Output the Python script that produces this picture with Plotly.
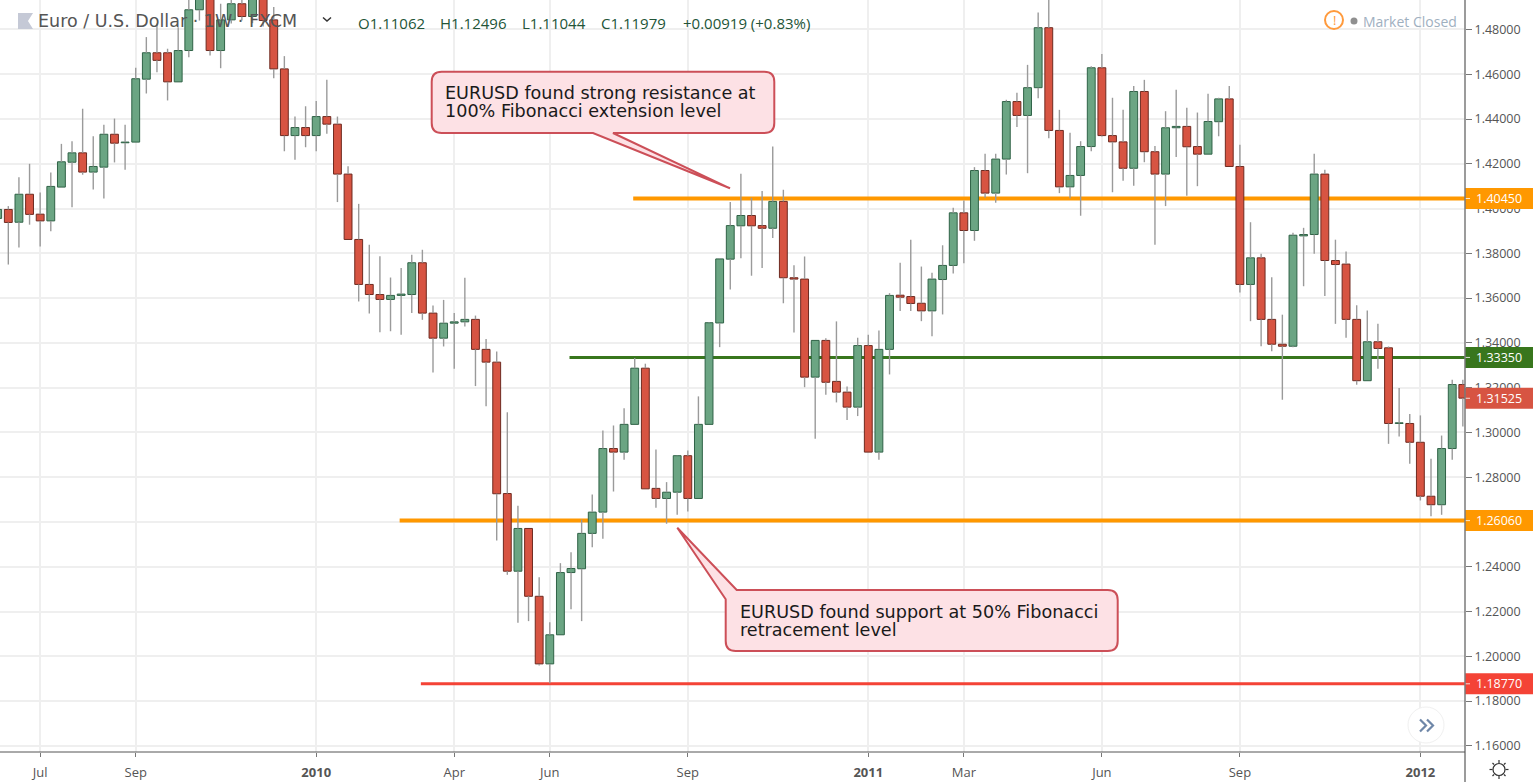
import pandas as pd
import plotly.graph_objects as go

first_week = "2009-06-08"
opens = [1.3956,1.3996,1.3939,1.4064,1.3975,1.3945,1.4096,1.4207,1.4249,1.4163,
1.4185,1.4332,1.4294,1.4297,1.4578,1.4696,1.4696,1.4566,1.4706,1.4888,
1.4952,1.4706,1.4843,1.4915,1.4858,1.4938,1.4843,1.4624,1.4326,1.4362,
1.4326,1.4411,1.4377,1.4154,1.3862,1.3661,1.3616,1.3594,1.3612,1.3616,
1.3758,1.3533,1.3421,1.3488,1.3494,1.3505,1.3371,1.3314,1.2727,1.2380,
1.2571,1.2268,1.1966,1.2096,1.2374,1.2391,1.2549,1.2644,1.2928,1.2912,
1.3036,1.3287,1.2750,1.2705,1.2733,1.2896,1.2705,1.3036,1.3489,1.3774,
1.3923,1.3969,1.3924,1.3912,1.4032,1.3691,1.3685,1.3247,1.3411,1.3228,
1.3180,1.3113,1.3388,1.2912,1.3371,1.3613,1.3607,1.3577,1.3543,1.3683,
1.3746,1.3981,1.3902,1.4170,1.4069,1.4221,1.4478,1.4416,1.4540,1.4808,
1.4349,1.4097,1.4148,1.4277,1.4629,1.4326,1.4298,1.4180,1.4523,1.4254,
1.4154,1.4361,1.4367,1.4277,1.4243,1.4388,1.4490,1.4188,1.3661,1.3780,
1.3505,1.3394,1.3385,1.3878,1.3884,1.4154,1.3768,1.3752,1.3505,1.3231,
1.3405,1.3378,1.3040,1.3040,1.2956,1.2715,1.2677,1.2928,1.3214]
closes = [1.3996,1.3938,1.4064,1.3974,1.3945,1.4099,1.4209,1.4249,1.4163,1.4188,
1.4332,1.4292,1.4297,1.4580,1.4696,1.4662,1.4566,1.4706,1.4888,1.4965,
1.4706,1.4843,1.4915,1.4858,1.4943,1.4840,1.4624,1.4326,1.4362,1.4326,
1.4411,1.4377,1.4154,1.3862,1.3661,1.3616,1.3594,1.3612,1.3618,1.3758,
1.3533,1.3421,1.3488,1.3494,1.3505,1.3371,1.3314,1.2726,1.2380,1.2571,
1.2268,1.1966,1.2096,1.2374,1.2392,1.2549,1.2644,1.2928,1.2912,1.3036,
1.3287,1.2748,1.2705,1.2733,1.2896,1.2705,1.3036,1.3490,1.3775,1.3924,
1.3969,1.3923,1.3912,1.4032,1.3691,1.3685,1.3247,1.3411,1.3224,1.3180,
1.3113,1.3388,1.2912,1.3371,1.3612,1.3604,1.3576,1.3543,1.3685,1.3746,
1.3981,1.3902,1.4170,1.4069,1.4221,1.4478,1.4416,1.4540,1.4808,1.4349,
1.4097,1.4148,1.4277,1.4629,1.4326,1.4298,1.4180,1.4523,1.4254,1.4154,
1.4361,1.4367,1.4276,1.4243,1.4389,1.4490,1.4188,1.3661,1.3780,1.3505,
1.3394,1.3385,1.3881,1.3884,1.4154,1.3768,1.3750,1.3505,1.3231,1.3405,
1.3375,1.3040,1.3043,1.2956,1.2715,1.2677,1.2928,1.3214,1.3153]
highs = [1.4014,1.4011,1.4140,1.4200,1.4072,1.4161,1.4289,1.4301,1.4446,1.4323,
1.4374,1.4402,1.4374,1.4629,1.4766,1.4827,1.4714,1.4810,1.4943,1.4995,
1.4974,1.4915,1.4956,1.4952,1.4970,1.4965,1.4900,1.4681,1.4411,1.4457,
1.4480,1.4575,1.4411,1.4189,1.4021,1.3838,1.3787,1.3692,1.3735,1.3794,
1.3816,1.3567,1.3592,1.3533,1.3691,1.3522,1.3417,1.3362,1.3090,1.2672,
1.2571,1.2353,1.2152,1.2416,1.2465,1.2611,1.2723,1.3009,1.3031,1.3108,
1.3332,1.3307,1.2924,1.2778,1.2897,1.2919,1.3161,1.3492,1.3778,1.4029,
1.4155,1.4048,1.4078,1.4277,1.4084,1.3747,1.3786,1.3411,1.3421,1.3496,
1.3205,1.3423,1.3436,1.3455,1.3622,1.3758,1.3861,1.3741,1.3713,1.3836,
1.4004,1.4036,1.4185,1.4245,1.4245,1.4486,1.4517,1.4642,1.4876,1.4952,
1.4441,1.4339,1.4301,1.4636,1.4691,1.4495,1.4441,1.4547,1.4575,1.4279,
1.4435,1.4531,1.4450,1.4429,1.4513,1.4495,1.4547,1.4285,1.3939,1.3798,
1.3693,1.3526,1.3892,1.3914,1.4245,1.4173,1.3861,1.3808,1.3568,1.3545,
1.3485,1.3384,1.3199,1.3082,1.3076,1.2882,1.2986,1.3235,1.3235]
lows = [1.3911,1.3750,1.3826,1.3928,1.3831,1.3899,1.4094,1.4006,1.4151,1.4085,
1.4045,1.4206,1.4173,1.4297,1.4514,1.4609,1.4483,1.4566,1.4676,1.4840,
1.4684,1.4627,1.4827,1.4840,1.4828,1.4813,1.4582,1.4256,1.4218,1.4274,
1.4256,1.4334,1.4029,1.3862,1.3585,1.3531,1.3448,1.3452,1.3436,1.3534,
1.3503,1.3268,1.3384,1.3284,1.3473,1.3207,1.3117,1.2517,1.2364,1.2150,
1.2157,1.1959,1.1880,1.2096,1.2210,1.2157,1.2487,1.2525,1.2736,1.2878,
1.3036,1.2748,1.2663,1.2592,1.2632,1.2647,1.2705,1.3036,1.3381,1.3639,
1.3778,1.3700,1.3734,1.3868,1.3577,1.3446,1.3202,1.2972,1.3168,1.3134,
1.3056,1.3073,1.2912,1.2878,1.3259,1.3542,1.3542,1.3497,1.3430,1.3527,
1.3710,1.3756,1.3856,1.4048,1.4026,1.4152,1.4364,1.4158,1.4493,1.4314,
1.4069,1.4046,1.3968,1.4256,1.4322,1.4073,1.4124,1.4102,1.4207,1.3838,
1.4011,1.4230,1.4057,1.4100,1.4243,1.4323,1.4188,1.3625,1.3497,1.3385,
1.3363,1.3146,1.3381,1.3653,1.3798,1.3609,1.3485,1.3423,1.3213,1.3231,
1.3284,1.2949,1.2982,1.2860,1.2696,1.2625,1.2632,1.2878,1.3027]

x_tick_dates = ["2009-07-06","2009-09-07","2010-01-04","2010-04-05","2010-06-07","2010-09-06",
                "2011-01-03","2011-03-07","2011-06-06","2011-09-05","2012-01-02"]
x_tick_labels = ["Jul","Sep","<b>2010</b>","Apr","Jun","Sep","<b>2011</b>","Mar","Jun","Sep","<b>2012</b>"]
y_ticks = [1.16,1.18,1.20,1.22,1.24,1.26,1.28,1.30,1.32,1.34,1.36,1.38,1.40,1.42,1.44,1.46,1.48]

level_prices = [1.4045, 1.3335, 1.2606, 1.1877]
level_starts = ["2010-08-01", "2010-06-20", "2010-02-28", "2010-03-14"]
level_colors = ["#ff9800", "#38761d", "#ff9800", "#f44336"]
level_widths = [4, 3, 4, 3]
last_price = 1.31525
last_color = "#d75442"

W, H = 1533, 782
PLOT_W, PLOT_H = 1465, 752
UP, DOWN = "#6ba583", "#d75442"
UP_EDGE, DOWN_EDGE = "#2f6246", "#6e2a20"
WICK = "#9a9a9a"
TICK_FONT = "Open Sans"
TICK_SIZE = 12.5

WEEK = pd.Timedelta(days=7)
dates = pd.date_range(first_week, periods=len(opens), freq="7D")
x_start = dates[0] + WEEK * (2.3 / 10.617)
x_end = dates[0] + WEEK * (1467.3 / 10.617)
bar_width = 0.74 * 7 * 86400000


def px(x):
    return x / PLOT_W


def py(y):
    return 1 - y / PLOT_H


def path(points, close=True):
    s = "M " + " L ".join(f"{px(a):.5f} {py(b):.5f}" for a, b in points)
    return s + (" Z" if close else "")


def callout(x0, y0, x1, y1, r, pointer, edge):
    """Rounded box with a pointer let into the top-left corner or bottom edge."""
    if edge == "bottom":
        base0, tip, base1 = pointer
        return (f"M {px(x0):.5f} {py(y0+r):.5f} Q {px(x0):.5f} {py(y0):.5f} {px(x0+r):.5f} {py(y0):.5f} "
                f"L {px(x1-r):.5f} {py(y0):.5f} Q {px(x1):.5f} {py(y0):.5f} {px(x1):.5f} {py(y0+r):.5f} "
                f"L {px(x1):.5f} {py(y1-r):.5f} Q {px(x1):.5f} {py(y1):.5f} {px(x1-r):.5f} {py(y1):.5f} "
                f"L {px(base1[0]):.5f} {py(base1[1]):.5f} L {px(tip[0]):.5f} {py(tip[1]):.5f} L {px(base0[0]):.5f} {py(base0[1]):.5f} "
                f"L {px(x0+r):.5f} {py(y1):.5f} Q {px(x0):.5f} {py(y1):.5f} {px(x0):.5f} {py(y1-r):.5f} Z")
    top, tip, left = pointer
    return (f"M {px(top[0]):.5f} {py(top[1]):.5f} "
            f"L {px(x1-r):.5f} {py(y0):.5f} Q {px(x1):.5f} {py(y0):.5f} {px(x1):.5f} {py(y0+r):.5f} "
            f"L {px(x1):.5f} {py(y1-r):.5f} Q {px(x1):.5f} {py(y1):.5f} {px(x1-r):.5f} {py(y1):.5f} "
            f"L {px(x0+r):.5f} {py(y1):.5f} Q {px(x0):.5f} {py(y1):.5f} {px(x0):.5f} {py(y1-r):.5f} "
            f"L {px(left[0]):.5f} {py(left[1]):.5f} L {px(tip[0]):.5f} {py(tip[1]):.5f} Z")


wx, wy = [], []
for d, o, h, l, c in zip(dates, opens, highs, lows, closes):
    if h > max(o, c):
        wx += [d, d, None]
        wy += [max(o, c), h, None]
    if l < min(o, c):
        wx += [d, d, None]
        wy += [min(o, c), l, None]

fig = go.Figure()
for is_up, fill, edge in ((True, UP, UP_EDGE), (False, DOWN, DOWN_EDGE)):
    idx = [i for i in range(len(opens)) if (closes[i] >= opens[i]) == is_up]
    fig.add_trace(go.Bar(
        x=[dates[i] for i in idx],
        base=[min(opens[i], closes[i]) for i in idx],
        y=[abs(closes[i] - opens[i]) for i in idx],
        width=bar_width,
        marker=dict(color=fill, line=dict(color=edge, width=1)),
        hoverinfo="skip", showlegend=False,
    ))
fig.add_trace(go.Scatter(x=wx, y=wy, mode="lines", line=dict(color=WICK, width=1.4),
                         hoverinfo="skip", showlegend=False))

shapes = []
annotations = []


def left_text(text, x, y, family, size, color):
    annotations.append(dict(xref="paper", yref="paper", x=px(x - 2), y=py(y), text=text, showarrow=False,
                            xanchor="left", yanchor="middle",
                            font=dict(family=family, size=size, color=color)))


# level lines sit above the grid, under the candles
for p, s, col, lw in zip(level_prices, level_starts, level_colors, level_widths):
    shapes.append(dict(type="line", layer="between", xref="x", yref="y", x0=s, x1=x_end, y0=p, y1=p,
                       line=dict(color=col, width=lw)))

# price labels on the axis
labels = list(zip(level_prices, level_colors)) + [(last_price, last_color)]
for p, col in labels:
    shapes.append(dict(type="rect", layer="above", xref="paper", yref="y", ysizemode="pixel", yanchor=p,
                       x0=1, x1=W / PLOT_W, y0=-10.5, y1=10.5, fillcolor=col, line=dict(width=0)))
    shapes.append(dict(type="line", layer="above", xref="paper", yref="y", x0=1, x1=1470 / PLOT_W, y0=p, y1=p,
                       line=dict(color="rgba(255,255,255,0.8)", width=1)))
    annotations.append(dict(xref="paper", yref="y", x=1499 / PLOT_W, y=p, text=f"{p:.5f}", showarrow=False,
                            font=dict(family=TICK_FONT, size=TICK_SIZE, color="#ffffff"),
                            xanchor="center", yanchor="middle"))

# axis lines that run past the plot area
shapes.append(dict(type="line", layer="above", xref="paper", yref="paper", x0=1, x1=1, y0=py(0), y1=py(H),
                   line=dict(color="#7a7a7a", width=1.5)))
shapes.append(dict(type="line", layer="above", xref="paper", yref="paper", x0=0, x1=1, y0=0, y1=0,
                   line=dict(color="#555555", width=1)))

# callouts
CALL_FILL, CALL_EDGE = "#fde1e5", "#cc4f58"
shapes.append(dict(type="path", layer="above", xref="paper", yref="paper",
                   path=callout(431.7, 71.7, 774.3, 133, 10, [(593, 133), (730, 188.3), (613, 133)], "bottom"),
                   fillcolor=CALL_FILL, line=dict(color=CALL_EDGE, width=2)))
shapes.append(dict(type="path", layer="above", xref="paper", yref="paper",
                   path=callout(725.7, 590, 1117.7, 651, 10, [(736.7, 590), (677.3, 527.7), (725.7, 599.3)], "top"),
                   fillcolor=CALL_FILL, line=dict(color=CALL_EDGE, width=2)))
for text, x, y in [("EURUSD found strong resistance at", 445, 93),
                   ("100% Fibonacci extension level", 445, 111),
                   ("EURUSD found support at 50% Fibonacci", 739.5, 612),
                   ("retracement level", 739.5, 630)]:
    left_text(text, x, y, "DejaVu Sans", 17.6, "#1a1a1a")

# header
shapes.append(dict(type="path", layer="above", xref="paper", yref="paper",
                   path=path([(18, 13), (33, 13), (28, 21), (33, 29), (18, 29)]),
                   fillcolor="#c5c9d6", line=dict(width=0)))
left_text("Euro / U.S. Dollar · 1W · FXCM", 38, 21, "DejaVu Sans", 17.5, "#555555")
shapes.append(dict(type="path", layer="above", xref="paper", yref="paper",
                   path=path([(323, 17.5), (327, 21), (331, 17.5)], close=False),
                   line=dict(color="#333333", width=1.5)))
for text, x in [("O1.11062", 358), ("H1.12496", 440), ("L1.11044", 522), ("C1.11979", 601), ("+0.00919 (+0.83%)", 683)]:
    left_text(text, x, 23, TICK_FONT, 15, "#225437")

# market status
shapes.append(dict(type="circle", layer="above", xref="paper", yref="paper",
                   x0=px(1325), x1=px(1343), y0=py(29), y1=py(11), line=dict(color="#ff9a3c", width=2)))
annotations.append(dict(xref="paper", yref="paper", x=px(1334), y=py(20), text="!", showarrow=False,
                        font=dict(family=TICK_FONT, size=13, color="#ff9a3c"), xanchor="center", yanchor="middle"))
shapes.append(dict(type="circle", layer="above", xref="paper", yref="paper",
                   x0=px(1350.5), x1=px(1357.5), y0=py(24.5), y1=py(17.5), fillcolor="#8f8f8f", line=dict(width=0)))
left_text("Market Closed", 1363, 21, TICK_FONT, 14, "#9fb0bf")

# scroll button
shapes.append(dict(type="circle", layer="above", xref="paper", yref="paper",
                   x0=px(1408), x1=px(1444), y0=py(743), y1=py(707),
                   fillcolor="rgba(255,255,255,0.95)", line=dict(color="#f0f0f0", width=1)))
for off in (0, 7):
    shapes.append(dict(type="path", layer="above", xref="paper", yref="paper",
                       path=path([(1420 + off, 719.5), (1426 + off, 725.5), (1420 + off, 731.5)], close=False),
                       line=dict(color="#6f87a8", width=2.2)))

# settings glyph
shapes.append(dict(type="circle", layer="above", xref="paper", yref="paper",
                   x0=px(1493), x1=px(1505), y0=py(775.5), y1=py(763.5), line=dict(color="#333333", width=1.2)))
for a, b, c, d in [(1499, 760, 1499, 763), (1499, 776, 1499, 779), (1489.5, 769.5, 1492.5, 769.5),
                   (1505.5, 769.5, 1508.5, 769.5), (1492.5, 763, 1494, 764.5), (1505.5, 763, 1504, 764.5),
                   (1492.5, 776, 1494, 774.5), (1505.5, 776, 1504, 774.5)]:
    shapes.append(dict(type="line", layer="above", xref="paper", yref="paper",
                       x0=px(a), x1=px(c), y0=py(b), y1=py(d), line=dict(color="#333333", width=1.2)))

GRID = "#efefef"
fig.update_layout(
    width=W, height=H, autosize=False,
    margin=dict(l=0, r=W - PLOT_W, t=0, b=H - PLOT_H, pad=0),
    paper_bgcolor="#ffffff", plot_bgcolor="#ffffff",
    barmode="overlay", showlegend=False,
    shapes=shapes, annotations=annotations,
    xaxis=dict(type="date", range=[x_start, x_end], tickmode="array", tickvals=x_tick_dates, ticktext=x_tick_labels,
               showgrid=True, gridcolor=GRID, gridwidth=1.5, zeroline=False, showline=False,
               ticks="outside", ticklen=4, tickcolor="#777777", tickwidth=1, ticklabelstandoff=4,
               tickfont=dict(family=TICK_FONT, size=13, color="#555555"), fixedrange=True),
    yaxis=dict(range=[1.15724, 1.49317], side="right", tickmode="array", tickvals=y_ticks,
               tickformat=".5f", showgrid=True, gridcolor=GRID, gridwidth=1.5, zeroline=False, showline=False,
               ticks="outside", ticklen=6, tickcolor="#777777", tickwidth=1,
               tickfont=dict(family=TICK_FONT, size=TICK_SIZE, color="#555555"), fixedrange=True),
)

fig.write_html("out.html", config={"displayModeBar": False},
               post_script="document.body.style.margin='0';document.body.style.overflow='hidden';")
